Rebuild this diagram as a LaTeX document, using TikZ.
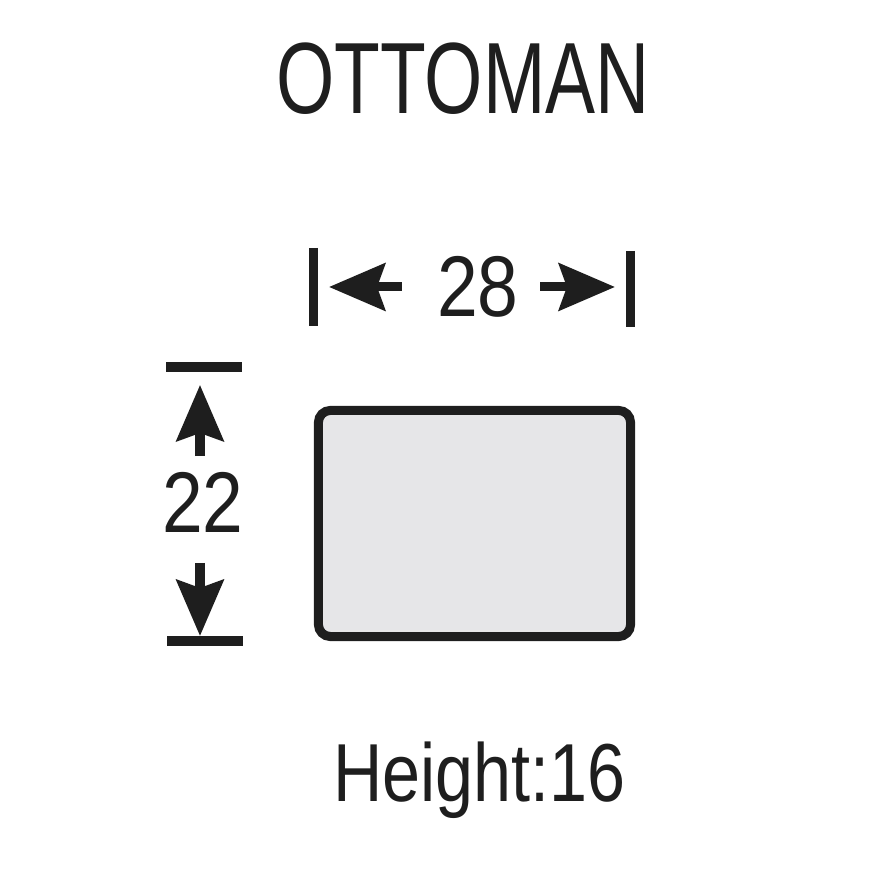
\documentclass[tikz,border=0pt]{standalone}
\usepackage{fontspec}
\setmainfont{Liberation Sans}
\newfontfamily\titlefont{Liberation Sans}[FakeStretch=0.74]
\newfontfamily\dimfont{Liberation Sans}[FakeStretch=0.85]
\newfontfamily\notefont{Liberation Sans}[FakeStretch=0.83]
\usepackage{tikz}
\usetikzlibrary{arrows.meta, positioning}
\definecolor{seatgray}{RGB}{230,230,232}
\definecolor{ink}{RGB}{30,30,30}
\tikzstyle{dimarrow} = [ink, line width=0.09cm, -{Stealth[length=0.56cm, width=0.47cm, inset=0.08cm]}]
\tikzstyle{dimbar} = [ink, line width=0.095cm]
\tikzstyle{dimlabel} = [inner sep=0pt, font=\dimfont\fontsize{24.5}{26}\selectfont, text=ink]
\tikzset{
	seat/.style = {rectangle, draw=ink, fill=seatgray, line width=0.09cm,
		rounded corners=0.12cm, minimum width=3.12cm, minimum height=2.26cm},
}

\begin{document}
\begin{tikzpicture}[x=0.01cm, y=-0.01cm]
\useasboundingbox (0,0) rectangle (878,874);
%----------------------------------------------------------------------------
% Placement of nodes
\node (title) [inner sep=0pt, text=ink, font=\titlefont\fontsize{28.8}{30}\selectfont] at (463,79) {OTTOMAN};

\node (ottoman) [seat] at (474.5,523.5) {};

\node (width) [dimlabel] at (478,287) {28};
\node (depth) [dimlabel] at (203,502) {22};

\node (height) [inner sep=0pt, anchor=base, text=ink, font=\notefont\fontsize{23.4}{25}\selectfont] at (479.5,802) {Height:16};

%----------------------------------------------------------------------------
% Dimension ends
\coordinate (wTipL) at (329,287);
\coordinate (wTipR) at (615,287);
\coordinate (dTipT) at (200,385);
\coordinate (dTipB) at (200,636);

\draw [dimbar] (313.5,248) -- (313.5,326);
\draw [dimbar] (630.5,251) -- (630.5,327);
\draw [dimbar] (166,367) -- (242,367);
\draw [dimbar] (167,641) -- (243,641);

%----------------------------------------------------------------------------
% Arrows
\draw [dimarrow] ([xshift=-0.35cm]width.west) -- (wTipL);
\draw [dimarrow] ([xshift=0.21cm]width.east) -- (wTipR);
\draw [dimarrow] ([yshift=0.15cm]depth.north -| dTipT) -- (dTipT);
\draw [dimarrow] ([yshift=-0.30cm]depth.south -| dTipB) -- (dTipB);
\end{tikzpicture}
\end{document}
